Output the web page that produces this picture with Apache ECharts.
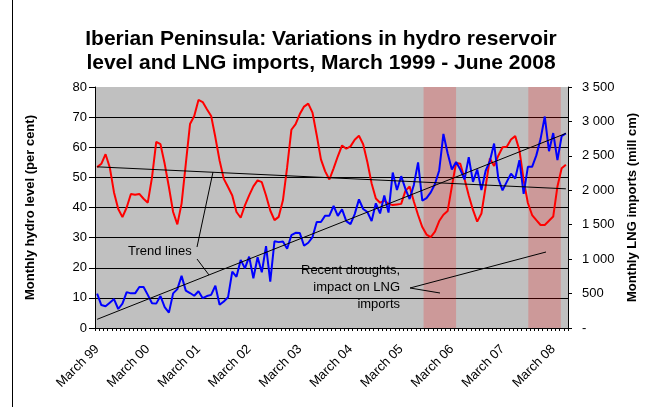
<!DOCTYPE html>
<html><head><meta charset="utf-8">
<script src="https://cdn.jsdelivr.net/npm/echarts@6/dist/echarts.min.js"></script>
<style>html,body{margin:0;padding:0;background:#fff}#c{width:662px;height:407px}</style>
</head><body><div id="c"></div>
<script>
// ---- data ----
const monthNames = ['Jan','Feb','Mar','Apr','May','Jun','Jul','Aug','Sep','Oct','Nov','Dec'];
const categories = [];
for (let k = 0; k < 112; k++) {
  const m = (2 + k) % 12, y = 1999 + Math.floor((2 + k) / 12);
  categories.push(monthNames[m] + ' ' + y);
}
const tickLabels = ['March 99','March 00','March 01','March 02','March 03','March 04','March 05','March 06','March 07','March 08'];
const hydroLevel = [53.4,54.5,57.7,53.3,45,39.5,36.8,40,44.5,44.2,44.5,42.9,
 41.6,50,61.8,61,54.5,46.8,38.5,34.4,41.3,54.5,67.7,70.4,
 75.7,75,72.6,70.4,63.3,55.6,49.5,46.8,44,38.5,36.6,40.7,
 44,47,49,48.4,44,39,35.8,36.9,42.4,53.4,65.8,67.7,
 71,73.5,74.5,71.5,64,56,52,49.3,53,57,60.6,59.5,
 60.3,62.5,63.8,61,55,48,43,41.6,42.3,41.2,40.8,41,
 41.2,45.5,47,42,37.5,33.5,31,30.2,32,35.5,37.6,38.8,
 47,54.8,54.5,49.5,44,39.2,35.3,38,46.9,56.3,53.8,57.2,
 60,60.2,62.6,63.7,59,49,41.5,37.5,35.8,34.2,34.2,35.6,
 37,47,53,54.2];
const lngImports = [499,333,315,368,420,276,354,521,503,503,595,595,
 481,359,354,464,302,223,503,564,757,543,508,468,
 534,433,464,481,613,337,385,446,818,744,989,866,
 1037,722,1028,809,1190,674,1260,1247,1256,1151,1348,1383,
 1378,1194,1238,1321,1540,1540,1632,1632,1772,1628,1724,1553,
 1509,1654,1868,1728,1684,1553,1811,1663,1925,1676,2258,2004,
 2205,2021,1873,2078,2406,1851,1886,1969,2091,2288,2818,2538,
 2301,2411,2301,2157,2481,2122,2301,2004,2284,2424,2678,2170,
 1999,2122,2240,2170,2437,1947,2341,2341,2507,2743,3071,2568,
 2831,2437,2787,2826];
const hydroTrendEnds = [53.5, 46.2];
const lngTrendEnds = [126, 2826];
const droughtPeriods = [[77.8, 85.5], [102.6, 110.3]]; // month-index positions
const leftTicks = {min: 0, max: 80, interval: 10};
const rightTicks = {min: 0, max: 3500, interval: 500};

// ---- chart ----
const FONT = 'Liberation Sans, Arial, sans-serif';
const chart = echarts.init(document.getElementById('c'), null, {renderer: 'canvas'});
const last = categories.length - 0.5;
function fmtRight(v) {
  if (v === 0) return '-';
  if (v >= 1000) return Math.floor(v / 1000) + ' ' + String(v % 1000).padStart(3, '0');
  return String(v);
}
chart.setOption({
  animation: false,
  backgroundColor: '#ffffff',
  textStyle: {fontFamily: FONT},
  title: {
    text: 'Iberian Peninsula: Variations in hydro reservoir\nlevel and LNG imports, March 1999 - June 2008',
    left: 321, top: 27, padding: 0, textAlign: 'center',
    textStyle: {fontFamily: FONT, fontSize: 21, fontWeight: 'bold', color: '#000', lineHeight: 24}
  },
  grid: {left: 95, right: 94, top: 87, bottom: 79, show: true, backgroundColor: '#c0c0c0', borderWidth: 0, outerBoundsMode: 'none', containLabel: false},
  xAxis: [{
    type: 'category', data: categories, boundaryGap: true,
    axisLine: {show: true, lineStyle: {color: '#000', width: 1}},
    axisTick: {show: true, interval: 0, length: 3, lineStyle: {color: '#000'}},
    axisLabel: {
      interval: (idx) => idx % 12 === 0,
      formatter: (val, idx) => tickLabels[Math.floor(idx / 12)],
      rotate: 45, fontSize: 13, color: '#000', fontFamily: FONT, margin: 19
    },
    splitLine: {show: false}
  }, {
    type: 'value', min: 0, max: categories.length, show: false
  }],
  yAxis: [{
    type: 'value', min: leftTicks.min, max: leftTicks.max, interval: leftTicks.interval,
    position: 'left',
    name: 'Monthly hydro level (per cent)', nameLocation: 'middle', nameRotate: 90, nameGap: 58,
    nameMoveOverlap: false,
    nameTextStyle: {fontFamily: FONT, fontSize: 13, fontWeight: 'bold', color: '#000'},
    axisLine: {show: true, lineStyle: {color: '#000', width: 1}},
    axisTick: {show: true, length: 6, inside: false, lineStyle: {color: '#000'}},
    axisLabel: {fontSize: 13, color: '#000', fontFamily: FONT, margin: 8},
    splitLine: {show: true, showMaxLine: false, lineStyle: {color: '#000', width: 1}}
  }, {
    type: 'value', min: rightTicks.min, max: rightTicks.max, interval: rightTicks.interval,
    position: 'right',
    name: 'Monthly LNG imports (mill cm)', nameLocation: 'middle', nameRotate: 90, nameGap: 58,
    nameMoveOverlap: false,
    nameTextStyle: {fontFamily: FONT, fontSize: 13, fontWeight: 'bold', color: '#000'},
    axisLine: {show: true, lineStyle: {color: '#000', width: 1}},
    axisTick: {show: true, length: 4, inside: false, lineStyle: {color: '#000'}},
    axisLabel: {fontSize: 13, color: '#000', fontFamily: FONT, margin: 14, formatter: fmtRight},
    splitLine: {show: false}
  }],
  series: [{
    name: 'Hydro level', type: 'line', xAxisIndex: 0, yAxisIndex: 0, data: hydroLevel,
    symbol: 'none', lineStyle: {color: '#ff0000', width: 2}, z: 3
  }, {
    name: 'LNG imports', type: 'line', xAxisIndex: 0, yAxisIndex: 1, data: lngImports,
    symbol: 'none', lineStyle: {color: '#0000ff', width: 2}, z: 4
  }, {
    name: 'Hydro trend', type: 'line', xAxisIndex: 1, yAxisIndex: 0,
    data: [[0.5, hydroTrendEnds[0]], [last, hydroTrendEnds[1]]],
    symbol: 'none', lineStyle: {color: '#000', width: 1}, z: 5
  }, {
    name: 'LNG trend', type: 'line', xAxisIndex: 1, yAxisIndex: 1,
    data: [[0.5, lngTrendEnds[0]], [last, lngTrendEnds[1]]],
    symbol: 'none', lineStyle: {color: '#000', width: 1}, z: 5
  }, {
    name: 'Droughts', type: 'line', xAxisIndex: 1, yAxisIndex: 0, data: [], z: 10,
    markArea: {
      silent: true, itemStyle: {color: 'rgba(255,0,0,0.2)'},
      data: droughtPeriods.map(p => [{xAxis: p[0], yAxis: leftTicks.min}, {xAxis: p[1], yAxis: leftTicks.max}])
    }
  }],
  graphic: [
    {type: 'line', shape: {x1: 12.5, y1: 0, x2: 12.5, y2: 407}, style: {stroke: '#000', lineWidth: 1}, z: 20},
    {type: 'text', x: 128, y: 251, style: {text: 'Trend lines', font: '13px ' + FONT, fill: '#000', textVerticalAlign: 'middle'}, z: 20},
    {type: 'line', shape: {x1: 197, y1: 247, x2: 213, y2: 172}, style: {stroke: '#000', lineWidth: 1}, z: 20},
    {type: 'line', shape: {x1: 197, y1: 259, x2: 209, y2: 275}, style: {stroke: '#000', lineWidth: 1}, z: 20},
    {type: 'text', x: 400, y: 287, style: {text: 'Recent droughts,\nimpact on LNG\nimports', font: '13px ' + FONT, fill: '#000', textAlign: 'right', textVerticalAlign: 'middle', lineHeight: 17}, z: 20},
    {type: 'line', shape: {x1: 410, y1: 288, x2: 440, y2: 293}, style: {stroke: '#000', lineWidth: 1}, z: 20},
    {type: 'line', shape: {x1: 410, y1: 288, x2: 546, y2: 252}, style: {stroke: '#000', lineWidth: 1}, z: 20}
  ]
});
</script></body></html>
